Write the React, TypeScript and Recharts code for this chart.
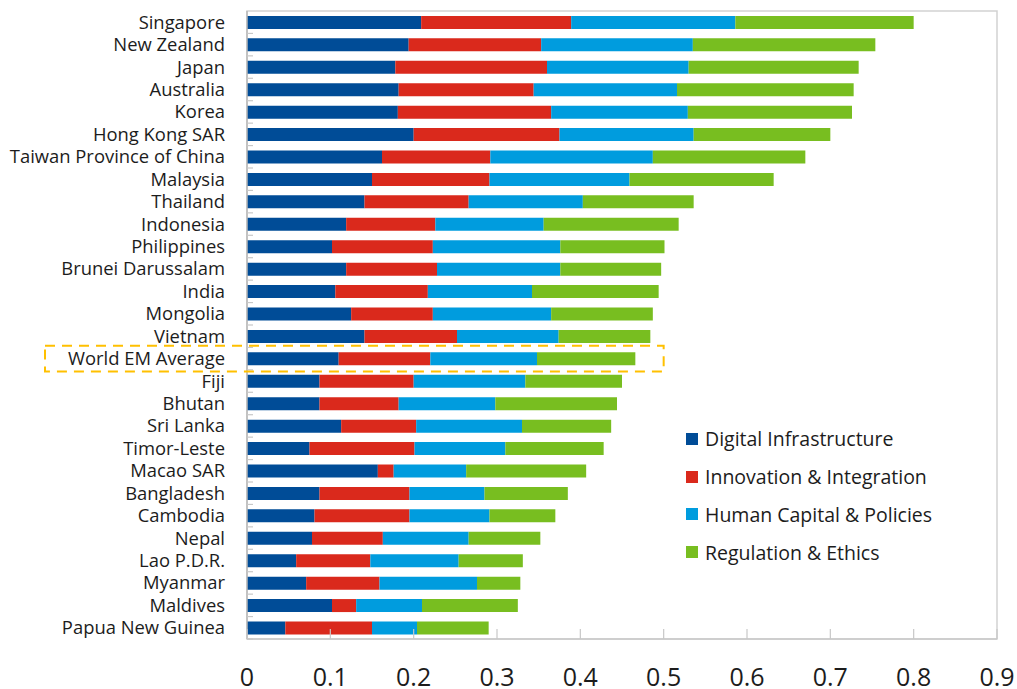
import { Bar, BarChart, Legend, ReferenceArea, XAxis, YAxis } from "recharts";

const countries = [
  "Singapore",
  "New Zealand",
  "Japan",
  "Australia",
  "Korea",
  "Hong Kong SAR",
  "Taiwan Province of China",
  "Malaysia",
  "Thailand",
  "Indonesia",
  "Philippines",
  "Brunei Darussalam",
  "India",
  "Mongolia",
  "Vietnam",
  "World EM Average",
  "Fiji",
  "Bhutan",
  "Sri Lanka",
  "Timor-Leste",
  "Macao SAR",
  "Bangladesh",
  "Cambodia",
  "Nepal",
  "Lao P.D.R.",
  "Myanmar",
  "Maldives",
  "Papua New Guinea",
];

const digitalInfrastructure = [
  0.209, 0.194, 0.178, 0.182, 0.181, 0.2, 0.162, 0.15, 0.141, 0.119, 0.102, 0.119, 0.106, 0.125,
  0.141, 0.11, 0.087, 0.087, 0.113, 0.075, 0.157, 0.087, 0.081, 0.078, 0.059, 0.071, 0.102, 0.046,
];
const innovationIntegration = [
  0.18, 0.159, 0.182, 0.162, 0.184, 0.175, 0.13, 0.141, 0.125, 0.107, 0.121, 0.109, 0.111, 0.098,
  0.111, 0.11, 0.113, 0.095, 0.09, 0.126, 0.019, 0.108, 0.114, 0.085, 0.089, 0.088, 0.029, 0.104,
];
const humanCapital = [
  0.197, 0.182, 0.17, 0.172, 0.164, 0.161, 0.195, 0.168, 0.137, 0.13, 0.153, 0.148, 0.125, 0.142,
  0.122, 0.128, 0.134, 0.116, 0.127, 0.109, 0.087, 0.09, 0.096, 0.103, 0.106, 0.117, 0.079, 0.054,
];
const regulationEthics = [
  0.214, 0.219, 0.204, 0.212, 0.197, 0.164, 0.183, 0.173, 0.133, 0.162, 0.125, 0.121, 0.152, 0.122,
  0.11, 0.118, 0.116, 0.146, 0.107, 0.118, 0.144, 0.1, 0.079, 0.086, 0.077, 0.052, 0.115, 0.086,
];

const xTicks = [0, 0.1, 0.2, 0.3, 0.4, 0.5, 0.6, 0.7, 0.8, 0.9];
const highlighted = "World EM Average";

const series = [
  { key: "di", name: "Digital Infrastructure", color: "#004C97" },
  { key: "ii", name: "Innovation & Integration", color: "#DA291C" },
  { key: "hc", name: "Human Capital & Policies", color: "#009CDE" },
  { key: "re", name: "Regulation & Ethics", color: "#78BE20" },
];

const data = countries.map((country, i) => ({
  country,
  di: digitalInfrastructure[i],
  ii: innovationIntegration[i],
  hc: humanCapital[i],
  re: regulationEthics[i],
}));

const FONT = "'Open Sans', sans-serif";
const TEXT = "#1c1c1c";
const W = 1017;
const H = 689;
const M = { top: 11, right: 20, bottom: 0, left: 0 };
const Y_W = 247;
const X_H = 50;
const PLOT_W = W - M.left - M.right - Y_W;
const PLOT_H = H - M.top - M.bottom - X_H;
const BAND = PLOT_H / countries.length;

function XTick({ x, y, payload }: any) {
  return (
    <g>
      <line x1={x} x2={x} y1={y} y2={y - 10} stroke="#c8c8c8" strokeWidth={1.2} />
      <text x={x} y={y + 47} textAnchor="middle" fill={TEXT} fontSize={25} fontFamily={FONT}>
        {String(payload.value)}
      </text>
    </g>
  );
}

function YTick({ x, y, payload }: any) {
  const isAvg = payload.value === highlighted;
  const boxRight = Y_W + M.left + (0.5 / 0.9) * PLOT_W;
  return (
    <g>
      <line x1={x} x2={x + 6} y1={y + BAND / 2} y2={y + BAND / 2} stroke="#c8c8c8" strokeWidth={1.2} />
      {isAvg && (
        <rect
          x={45}
          y={y - 12.8}
          width={boxRight - 45}
          height={25.6}
          fill="none"
          stroke="#FFC000"
          strokeWidth={2}
          strokeDasharray="10 7"
        />
      )}
      <text
        x={x - 22}
        y={y}
        dy="0.35em"
        textAnchor="end"
        fill={TEXT}
        fontSize={18.4}
        fontFamily={FONT}
      >
        {payload.value}
      </text>
    </g>
  );
}

function LegendBox({ payload }: any) {
  const items = [...(payload || [])].sort(
    (a: any, b: any) =>
      series.findIndex((s) => s.key === a.dataKey) - series.findIndex((s) => s.key === b.dataKey)
  );
  return (
    <div style={{ fontFamily: FONT }}>
      {items.map((item: any) => (
        <div
          key={item.value}
          style={{ display: "flex", alignItems: "center", height: 37.8, fontSize: 19.5, color: TEXT }}
        >
          <span
            style={{ width: 12, height: 12, background: item.color, marginRight: 7, display: "inline-block" }}
          />
          <span>{item.value}</span>
        </div>
      ))}
    </div>
  );
}

export default function App() {
  return (
    <div style={{ position: "absolute", left: 0, top: 0, width: W, height: H, background: "#fff" }}>
      <BarChart width={W} height={H} data={data} layout="vertical" margin={M} barCategoryGap="22%">
        <ReferenceArea
          x1={0}
          x2={0.9}
          fill="none"
          stroke="#d2d2d2"
          strokeWidth={1.5}
          ifOverflow="visible"
        />
        <XAxis
          type="number"
          domain={[0, 0.9]}
          ticks={xTicks}
          height={X_H}
          tickSize={0}
          tickMargin={0}
          tickLine={false}
          axisLine={{ stroke: "#c8c8c8", strokeWidth: 1.5 }}
          tick={<XTick />}
          interval={0}
        />
        <YAxis
          type="category"
          dataKey="country"
          width={Y_W}
          tickSize={0}
          tickMargin={0}
          tickLine={false}
          axisLine={{ stroke: "#b8b8b8", strokeWidth: 1.5 }}
          tick={<YTick />}
          interval={0}
        />
        <Legend
          layout="vertical"
          align="center"
          verticalAlign="middle"
          content={<LegendBox />}
          wrapperStyle={{ position: "absolute", left: 686, top: 420, width: 320 }}
        />
        {series.map((s) => (
          <Bar
            key={s.key}
            dataKey={s.key}
            name={s.name}
            stackId="s"
            fill={s.color}
            isAnimationActive={false}
          />
        ))}
      </BarChart>
    </div>
  );
}
